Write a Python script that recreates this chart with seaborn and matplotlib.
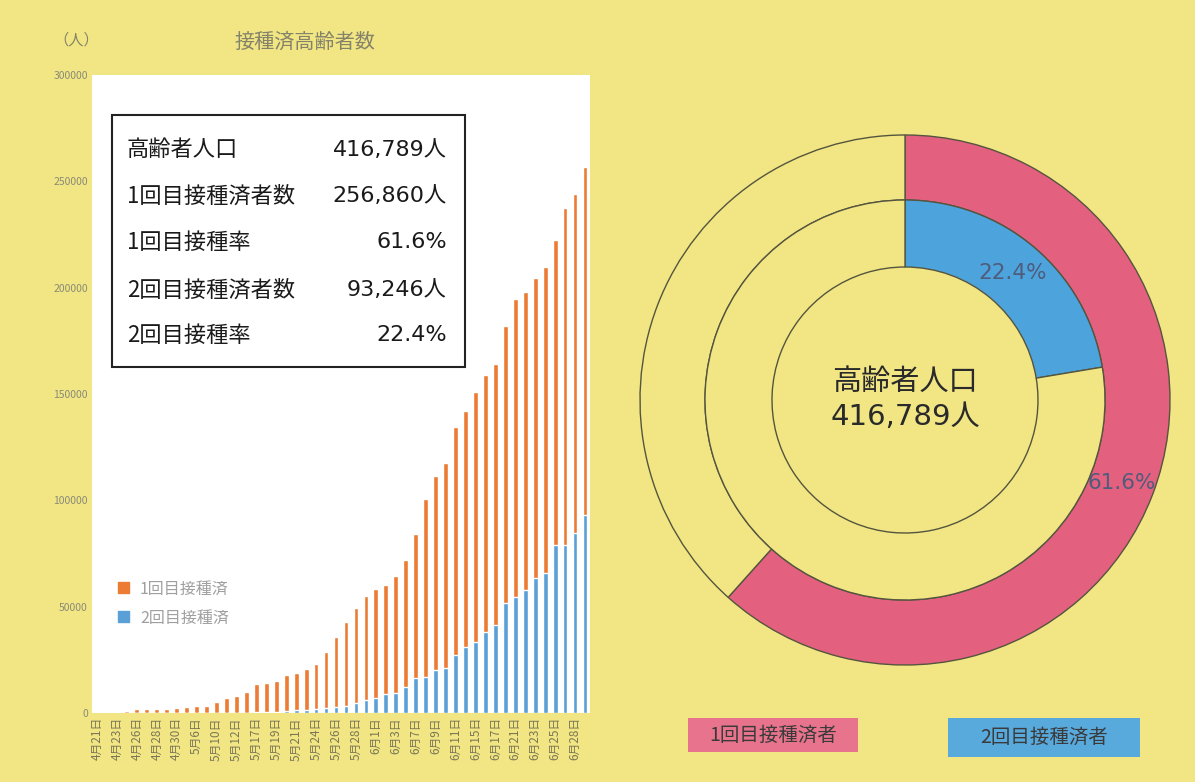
import numpy as np
import pandas as pd
import matplotlib
matplotlib.use('Agg')
import matplotlib.pyplot as plt
import seaborn as sns
from matplotlib.patches import Rectangle, Patch

# ---------------- data ----------------
dates = ['4月21日', '4月22日', '4月23日', '4月24日', '4月26日', '4月27日', '4月28日', '4月29日',
         '4月30日', '5月1日', '5月6日', '5月7日', '5月10日', '5月11日', '5月12日', '5月14日',
         '5月17日', '5月18日', '5月19日', '5月20日', '5月21日', '5月22日', '5月24日', '5月25日',
         '5月26日', '5月27日', '5月28日', '5月31日', '6月1日', '6月2日', '6月3日', '6月4日',
         '6月7日', '6月8日', '6月9日', '6月10日', '6月11日', '6月14日', '6月15日', '6月16日',
         '6月17日', '6月18日', '6月21日', '6月22日', '6月23日', '6月24日', '6月25日', '6月26日',
         '6月28日', '6月29日']

first_dose = [300, 500, 700, 1000, 1700, 1900, 2000, 2100, 2200, 3000,
              3100, 3500, 5000, 6900, 8000, 10000, 13600, 13900, 15200, 17900,
              18600, 20500, 23000, 28800, 35800, 42900, 49500, 54800, 58200, 60400,
              64400, 71900, 84400, 100600, 111300, 117700, 134400, 142100, 151000, 158700,
              164300, 182100, 194600, 198000, 204500, 209900, 222400, 237300, 244100, 256860]

second_dose = [0, 0, 0, 0, 0, 0, 0, 0, 0, 0,
               0, 0, 0, 0, 0, 0, 300, 500, 700, 1000,
               1300, 1600, 1800, 2200, 3000, 3200, 4500, 6100, 6900, 9000,
               9600, 12400, 16300, 16700, 20200, 21000, 27300, 31200, 33500, 38200,
               41400, 51600, 54700, 57800, 63300, 65700, 79000, 79200, 84500, 93246]

population = 416789
series_labels = ['1回目接種済', '2回目接種済']
donut_labels = ['1回目接種済者', '2回目接種済者']
y_ticks = [0, 50000, 100000, 150000, 200000, 250000, 300000]

# ---------------- style ----------------
sns.set_theme(style='white')
plt.rcParams['font.family'] = ['Noto Sans CJK JP', 'DejaVu Sans']
NUMFONT = ['DejaVu Sans', 'Noto Sans CJK JP']

BG = '#F1E683'
ORANGE = '#EC7B33'
BLUE = '#5A9FD6'
PINK = '#E3607F'
PINK_LEG = '#E8738C'
RING_BLUE = '#4DA3DB'
BLUE_LEG = '#58A9DC'
W, H = 1195, 782

fig = plt.figure(figsize=(W / 100, H / 100), dpi=100, facecolor=BG)

# ---------------- bar chart ----------------
ax = fig.add_axes([92 / W, 69 / H, 498 / W, 638 / H])
ax.set_facecolor('white')
df = pd.DataFrame({'date': dates, 'first': first_dose, 'second': second_dose})
sns.barplot(data=df, x='date', y='first', order=dates, color=ORANGE, saturation=1,
            width=0.48, errorbar=None, ax=ax, zorder=2)
sns.barplot(data=df, x='date', y='second', order=dates, color=BLUE, saturation=1,
            width=0.48, errorbar=None, ax=ax, zorder=3)
ax.set_xlim(-0.5, len(dates) - 0.5)
ax.set_ylim(0, 300000)
ax.set_yticks(y_ticks)
ax.set_yticklabels([str(v) for v in y_ticks], fontsize=7.5, color='#8a8a78')
ax.set_xticks(range(len(dates)))
ax.set_xticklabels([d if i % 2 == 0 else '' for i, d in enumerate(dates)],
                   rotation=90, fontsize=8.5, color='#7a7656')
ax.tick_params(axis='both', length=0, pad=3)
ax.set_xlabel('')
ax.set_ylabel('')
for s in ax.spines.values():
    s.set_visible(False)

handles = [Patch(color=ORANGE), Patch(color=BLUE)]
ax.legend(handles, series_labels, loc='upper left', bbox_to_anchor=(104 / W, 1 - 566 / H),
          bbox_transform=fig.transFigure, frameon=False, fontsize=11.5, labelcolor='#a0a0a0',
          handlelength=0.65, handleheight=0.65, labelspacing=0.75, handletextpad=0.7)

fig.text(305 / W, 1 - 42 / H, '接種済高齢者数', ha='center', va='center',
         fontsize=14.5, color='#85826a')
fig.text(76 / W, 1 - 40 / H, '（人）', ha='center', va='center', fontsize=11, color='#85826a')

# ---------------- stats box ----------------
box = Rectangle((112 / W, 1 - 367 / H), 353 / W, 252 / H, transform=fig.transFigure,
                facecolor='white', edgecolor='#222222', linewidth=1.5, zorder=5)
fig.add_artist(box)
n1 = first_dose[-1]
n2 = second_dose[-1]
rows = [('高齢者人口', f'{population:,}人'),
        ('1回目接種済者数', f'{n1:,}人'),
        ('1回目接種率', f'{n1 / population * 100:.1f}%'),
        ('2回目接種済者数', f'{n2:,}人'),
        ('2回目接種率', f'{n2 / population * 100:.1f}%')]
row_y = [150, 196, 242, 290, 335]
for (lab, val), yy in zip(rows, row_y):
    fig.text(127 / W, 1 - yy / H, lab, ha='left', va='center', fontsize=16,
             color='#1a1a1a', zorder=6)
    fig.text(447 / W, 1 - yy / H, val, ha='right', va='center', fontsize=16,
             color='#1a1a1a', zorder=6, family=NUMFONT)

# ---------------- donut ----------------
ax2 = fig.add_axes([625 / W, (H - 680) / H, 560 / W, 560 / H])
ax2.set_facecolor('none')
edge = dict(edgecolor='#55553f', linewidth=1.0)
outer, _ = ax2.pie([n1, population - n1], colors=[PINK, BG], radius=1.325,
                   startangle=90, counterclock=False,
                   wedgeprops=dict(width=0.325, **edge))
inner, _ = ax2.pie([n2, population - n2], colors=[RING_BLUE, BG], radius=1.0,
                   startangle=90, counterclock=False,
                   wedgeprops=dict(width=0.335, **edge))
ax2.set_xlim(-1.4, 1.4)
ax2.set_ylim(-1.4, 1.4)
ax2.axis('off')

for w, val in ((outer[0], n1), (inner[0], n2)):
    ang = np.deg2rad((w.theta1 + w.theta2) / 2)
    r = w.r - w.width / 2
    ax2.text(r * np.cos(ang), r * np.sin(ang), f'{val / population * 100:.1f}%',
             ha='center', va='center', fontsize=15.5, color='#4f5c7c', family=NUMFONT)

ax2.text(0, 0.09, '高齢者人口', ha='center', va='center', fontsize=21, color='#2a2a2a')
ax2.text(0, -0.085, f'{population:,}人', ha='center', va='center', fontsize=21,
         color='#2a2a2a', family=NUMFONT)

# ---------------- bottom legend boxes ----------------
for (x0, x1, y0, y1, col, lab) in [(688, 858, 718, 752, PINK_LEG, donut_labels[0]),
                                   (948, 1140, 718, 757, BLUE_LEG, donut_labels[1])]:
    fig.add_artist(Rectangle((x0 / W, 1 - y1 / H), (x1 - x0) / W, (y1 - y0) / H,
                             transform=fig.transFigure, facecolor=col, edgecolor='none'))
    fig.text((x0 + x1) / 2 / W, 1 - (y0 + y1) / 2 / H, lab, ha='center', va='center',
             fontsize=14, color='#3a3a3a')

fig.savefig('out.png', dpi=100, facecolor=BG)
